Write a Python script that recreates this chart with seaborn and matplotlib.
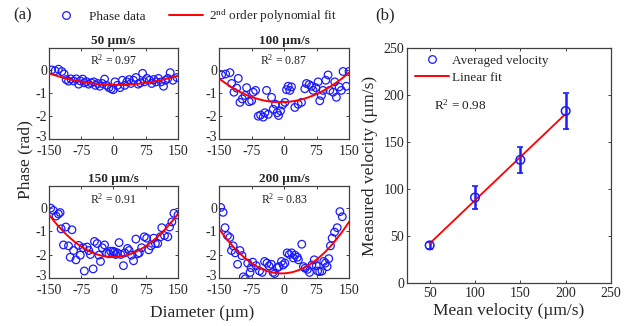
import numpy as np
import pandas as pd
import matplotlib
matplotlib.use("Agg")
import matplotlib.pyplot as plt
import matplotlib.transforms as mtransforms
import seaborn as sns
from matplotlib.lines import Line2D

# ---------------- data ----------------
titles = ["50 µm/s", "100 µm/s", "150 µm/s", "200 µm/s"]
r2_labels = ["0.97", "0.87", "0.91", "0.83"]

x50 = [-143.7, -135.9, -128.1, -120.2, -114.8, -110.1, -104.6, -99.1, -92.8, -86.6,
       -81.1, -77.2, -71.7, -67.8, -63.1, -57.6, -52.1, -45.9, -42.0, -36.5,
       -31.8, -26.3, -20.8, -16.1, -10.6, -5.1, -0.4, 3.5, 9.0, 15.2,
       20.7, 26.2, 30.9, 36.4, 40.3, 46.6, 52.0, 57.5, 62.2, 67.7,
       71.6, 77.9, 83.4, 88.8, 93.5, 99.0, 104.5, 110.8, 116.3, 120.9,
       126.4, 131.9, 138.2, 147.6]
y50 = [0.0, -0.04, 0.03, -0.07, -0.18, -0.42, -0.49, -0.39, -0.48, -0.39,
       -0.62, -0.48, -0.40, -0.56, -0.51, -0.62, -0.56, -0.52, -0.67, -0.59,
       -0.71, -0.59, -0.40, -0.67, -0.77, -0.82, -0.86, -0.52, -0.67, -0.77,
       -0.45, -0.67, -0.52, -0.42, -0.59, -0.45, -0.33, -0.62, -0.56, -0.15,
       -0.52, -0.37, -0.45, -0.59, -0.42, -0.52, -0.37, -0.52, -0.71, -0.45,
       -0.37, -0.12, -0.45, -0.33]

x100 = [-143.9, -134.7, -124.7, -120.8, -115.5, -109.3, -105.5, -101.6, -96.3, -90.1,
        -86.3, -80.2, -74.8, -71.0, -65.6, -59.4, -54.1, -47.9, -44.1, -40.3,
        -36.4, -28.7, -24.9, -19.5, -15.7, -12.6, -8.0, -3.4, 2.0, 5.8,
        9.6, 13.5, 17.3, 25.0, 32.7, 40.3, 48.0, 51.8, 58.0, 63.4,
        67.2, 73.3, 78.7, 82.5, 86.4, 90.2, 96.4, 101.7, 105.6, 113.2,
        117.1, 120.9, 127.1, 132.4, 136.3, 143.9, 150.0]
y100 = [-0.22, -0.18, -0.12, -0.59, -0.97, -0.79, -0.37, -1.41, -1.26, -1.11,
        -0.77, -1.38, -1.34, -0.97, -0.89, -2.01, -1.96, -2.05, -1.86, -0.89,
        -1.93, -1.19, -1.71, -1.49, -1.86, -1.98, -1.78, -1.52, -1.41, -0.86,
        -0.71, -0.89, -0.74, -1.63, -1.49, -1.41, -0.82, -0.59, -0.64, -0.71,
        -0.89, -0.77, -0.52, -1.34, -1.11, -0.89, -0.45, -0.22, -0.89, -0.97,
        -0.52, -1.19, -0.74, -0.89, -0.07, -0.71, -0.07]

x150 = [-146.1, -139.8, -133.6, -128.1, -124.2, -121.8, -116.3, -110.8, -104.6, -100.7,
        -96.7, -92.8, -87.4, -81.1, -77.2, -70.9, -67.8, -61.5, -57.6, -53.7,
        -47.4, -44.3, -38.0, -34.1, -30.2, -26.3, -20.8, -16.1, -10.6, -6.7,
        -1.2, 2.7, 5.1, 9.0, 12.9, 16.8, 23.1, 26.2, 32.5, 36.4,
        41.9, 46.6, 52.0, 55.9, 59.9, 65.4, 71.6, 77.1, 81.8, 87.3,
        93.5, 97.5, 102.9, 109.2, 112.3, 118.6, 126.4, 130.3, 135.8, 140.5,
        149.9]
y150 = [0.0, -0.10, -0.34, -0.25, -0.19, -0.89, -1.58, -0.81, -1.62, -2.11,
        -0.93, -1.82, -2.22, -1.60, -2.02, -1.70, -2.70, -1.67, -1.82, -1.99,
        -2.61, -1.43, -1.52, -2.02, -2.29, -1.70, -1.58, -1.92, -1.96, -1.85,
        -1.85, -1.88, -1.99, -1.92, -1.48, -1.99, -2.47, -1.92, -1.73, -1.82,
        -2.02, -2.26, -1.33, -1.96, -1.92, -1.70, -1.23, -1.29, -1.79, -1.62,
        -1.29, -1.52, -1.52, -1.23, -0.84, -1.18, -1.23, -0.81, -0.59, -0.22,
        -0.30]

x200 = [-146.1, -140.6, -136.0, -130.5, -125.1, -121.2, -117.3, -112.6, -107.1, -101.7,
        -97.0, -93.9, -89.2, -83.7, -78.3, -76.0, -72.1, -64.3, -56.5, -50.2,
        -44.8, -39.3, -34.6, -29.2, -25.3, -21.4, -15.9, -11.3, -5.8, -1.9,
        2.0, 7.4, 12.1, 17.6, 21.5, 25.4, 30.8, 33.2, 41.0, 44.9,
        48.8, 54.2, 58.9, 64.3, 69.8, 74.5, 77.6, 82.3, 87.7, 91.6,
        95.5, 99.4, 103.3, 107.2, 111.1, 116.6, 122.8, 129.0, 134.5]
y200 = [0.03, -0.18, -0.84, -1.18, -1.26, -1.82, -1.62, -1.92, -2.41, -1.82,
        -2.04, -2.95, -3.03, -2.36, -2.76, -2.56, -2.32, -2.47, -2.70, -2.76,
        -2.29, -2.36, -2.48, -2.41, -2.76, -2.81, -2.56, -2.51, -2.29, -2.44,
        -2.36, -1.92, -1.99, -1.92, -2.14, -2.02, -2.11, -2.22, -1.55, -2.51,
        -2.58, -2.63, -2.76, -2.44, -2.22, -2.47, -2.70, -2.73, -2.70, -2.29,
        -2.36, -2.51, -2.17, -1.62, -1.29, -1.03, -0.84, -0.15, -0.37]

# 2nd order polynomial fit coefficients (a, b, c)
fit50 = [2.0e-5, -3.3e-4, -0.65]
fit100 = [5.13e-5, 8.3e-4, -1.40]
fit150 = [8.18e-5, 1.3e-4, -2.10]
fit200 = [9.18e-5, 9.7e-4, -2.80]

diam_ticks = [-150, -75, 0, 75, 150]
phase_ticks = [-3, -2, -1, 0]

mean_vel = [50, 100, 150, 200]
meas_vel = [40, 91, 131, 183]
meas_err = [4, 12, 14, 19]
lin_fit_x = [50, 200]
lin_fit_y = [42, 180]
vel_xticks = [50, 100, 150, 200, 250]
vel_yticks = [0, 50, 100, 150, 200, 250]

# ---------------- style ----------------
sns.set_style("ticks")
plt.rcParams["font.family"] = ["Liberation Serif", "DejaVu Serif"]
plt.rcParams["mathtext.fontset"] = "custom"
plt.rcParams["mathtext.rm"] = "Liberation Serif"
plt.rcParams["mathtext.it"] = "Liberation Serif:italic"
plt.rcParams["axes.unicode_minus"] = False

BLUE = "#1a1aff"
RED = "#ff0000"
FRAME = "#404040"

fig = plt.figure(figsize=(6.31, 3.26), dpi=100)

W = 631.0
H = 326.0
def pos(x0, x1, ytop, ybot):
    return [x0 / W, 1 - ybot / H, (x1 - x0) / W, (ybot - ytop) / H]

panel_pos = [pos(49, 178, 48, 139), pos(219, 349, 48, 139),
             pos(49, 178, 186, 278), pos(219, 349, 186, 278)]
xs_list = [x50, x100, x150, x200]
ys_list = [y50, y100, y150, y200]
fits = [fit50, fit100, fit150, fit200]

def style_frame(ax, fs, xpad=2, ypad=2):
    for s in ax.spines.values():
        s.set_visible(True)
        s.set_color(FRAME)
        s.set_linewidth(0.9)
    ax.tick_params(which="both", direction="in", top=True, right=True,
                   length=2.5, width=0.7, color=FRAME, labelsize=fs)
    ax.tick_params(axis="x", pad=xpad)
    ax.tick_params(axis="y", pad=ypad)

for i in range(4):
    ax = fig.add_axes(panel_pos[i])
    df = pd.DataFrame({"d": xs_list[i], "p": ys_list[i]})
    sns.scatterplot(data=df, x="d", y="p", ax=ax, marker="o", s=30,
                    facecolor="none", edgecolor=BLUE, linewidth=0.9, zorder=2)
    xx = np.linspace(-150, 150, 121)
    fdf = pd.DataFrame({"d": xx, "p": np.polyval(fits[i], xx)})
    sns.lineplot(data=fdf, x="d", y="p", ax=ax, color=RED, linewidth=1.4, zorder=3)
    ax.set_xlim(-150, 150)
    ax.set_ylim(-3, 0.95)
    ax.set_xticks(diam_ticks)
    ax.set_yticks(phase_ticks)
    ax.set_xlabel("")
    ax.set_ylabel("")
    style_frame(ax, 10, xpad=4.5, ypad=1.5)
    # nudge the lowest y label up a little so it clears the x labels
    lowest = ax.get_yticklabels()[0]
    lowest.set_transform(lowest.get_transform() +
                         mtransforms.ScaledTranslation(0, 2.5 / 72, fig.dpi_scale_trans))
    ax.set_title(titles[i], fontsize=9.5, fontweight="bold", pad=3)
    ax.text(0.5, 0.86, "R$^2$ = " + r2_labels[i], transform=ax.transAxes,
            ha="center", va="center", fontsize=8.5, color="#202020")

# panel (a) common labels & legend
fig.text(25 / W, 1 - 160 / H, "Phase (rad)", rotation=90, ha="center", va="center",
         fontsize=12.5)
fig.text(202 / W, 1 - 313 / H, "Diameter (µm)", ha="center", va="center", fontsize=12.5)
fig.text(13 / W, 1 - 15 / H, "(a)", ha="left", va="center", fontsize=12)
fig.text(375 / W, 1 - 15 / H, "(b)", ha="left", va="center", fontsize=12)

h1 = Line2D([], [], ls="none", marker="o", markerfacecolor="none",
            markeredgecolor=BLUE, markersize=5.5, markeredgewidth=0.9)
h2 = Line2D([], [], color=RED, linewidth=1.4)
fig.legend([h1, h2], ["Phase data", "2$^{\\rm nd}$ order polynomial fit"],
           loc="center", bbox_to_anchor=(193 / W, 1 - 16 / H), ncol=2,
           frameon=False, fontsize=9.5, handlelength=2.6, columnspacing=1.8,
           handletextpad=0.4)

# panel (b)
axb = fig.add_axes(pos(407, 611, 48, 283))
bdf = pd.DataFrame({"mean": mean_vel, "meas": meas_vel})
ldf = pd.DataFrame({"mean": lin_fit_x, "meas": lin_fit_y})
axb.errorbar(mean_vel, meas_vel, yerr=meas_err, fmt="none", ecolor=BLUE,
             elinewidth=1.8, capsize=2, capthick=1.2, zorder=2)
sns.lineplot(data=ldf, x="mean", y="meas", ax=axb, color=RED, linewidth=1.3, zorder=3)
sns.scatterplot(data=bdf, x="mean", y="meas", ax=axb, marker="o", s=38,
                facecolor="none", edgecolor=BLUE, linewidth=1.1, zorder=4)
axb.set_xlim(25, 250)
axb.set_ylim(0, 250)
axb.set_xticks(vel_xticks)
axb.set_yticks(vel_yticks)
style_frame(axb, 10, xpad=3, ypad=2)
axb.set_xlabel("Mean velocity (µm/s)", fontsize=12.5, labelpad=2)
axb.set_ylabel("Measured velocity (µm/s)", fontsize=12.5, labelpad=4)
hb1 = Line2D([], [], ls="none", marker="o", markerfacecolor="none",
             markeredgecolor=BLUE, markersize=5.5, markeredgewidth=0.9)
hb2 = Line2D([], [], color=RED, linewidth=1.4)
axb.legend([hb1, hb2], ["Averaged velocity", "Linear fit"], loc="upper left",
           bbox_to_anchor=(0.0, 1.005), frameon=False, fontsize=9.5,
           handlelength=2.6, handletextpad=0.2, borderaxespad=0.2,
           labelspacing=0.35)
axb.text(0.13, 0.755, "R$^2$ = 0.98", transform=axb.transAxes, ha="left",
         va="center", fontsize=9.5, color="#202020")

fig.savefig("out.png", dpi=100)
